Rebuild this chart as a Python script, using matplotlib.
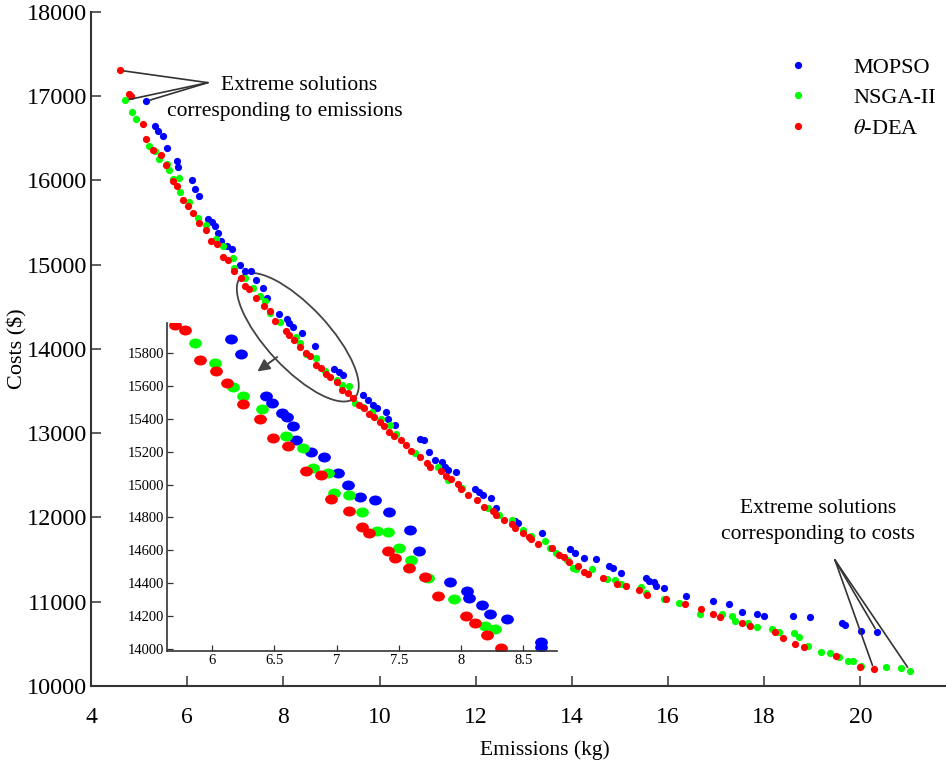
# -*- coding: utf-8 -*-
import numpy as np
import matplotlib
matplotlib.use('Agg')
import matplotlib.pyplot as plt
from matplotlib.path import Path
from matplotlib.patches import Ellipse
from matplotlib.transforms import ScaledTranslation

plt.rcParams['font.family'] = ['Liberation Serif', 'DejaVu Serif']
plt.rcParams['mathtext.fontset'] = 'stix'

# ---- main front (emissions kg, costs $) ----
mopso_x = [5.14, 5.33, 5.40, 5.50, 5.59, 5.79, 5.81, 6.09, 6.16, 6.25, 6.44, 6.51, 6.58, 6.65, 6.70,
           6.82, 6.93, 7.10, 7.20, 7.33, 7.43, 7.58, 7.67, 7.91, 8.07, 8.12, 8.21, 8.38, 8.66, 9.05,
           9.16, 9.25, 9.66, 9.77, 9.86, 9.94, 10.14, 10.18, 10.33, 10.84, 10.92, 11.03, 11.15, 11.30,
           11.36, 11.43, 11.60, 11.98, 12.07, 12.16, 12.31, 12.43, 12.81, 12.88, 13.37, 13.96, 14.06,
           14.25, 14.51, 14.78, 14.85, 15.03, 15.55, 15.61, 15.70, 15.75, 15.91, 16.37, 16.93, 17.26,
           17.53, 17.85, 17.99, 18.60, 18.96, 19.61, 19.68, 20.02, 20.35]
mopso_y = [16939, 16650, 16591, 16532, 16385, 16227, 16160, 16009, 15898, 15811, 15542, 15506, 15455,
           15376, 15277, 15218, 15186, 15000, 14920, 14920, 14818, 14723, 14610, 14418, 14358, 14307,
           14260, 14188, 14038, 13761, 13721, 13693, 13450, 13400, 13330, 13298, 13258, 13169, 13099,
           12930, 12922, 12783, 12684, 12664, 12605, 12565, 12538, 12336, 12308, 12268, 12229, 12117,
           11963, 11939, 11813, 11625, 11582, 11524, 11503, 11425, 11405, 11337, 11278, 11250, 11239,
           11188, 11160, 11069, 11013, 10974, 10883, 10855, 10831, 10831, 10823, 10752, 10724, 10650,
           10640]

nsga_x = [4.71, 4.85, 4.94, 5.21, 5.33, 5.42, 5.59, 5.62, 5.70, 5.82, 5.85, 6.04, 6.23, 6.40, 6.60,
          6.74, 6.96, 6.97, 7.20, 7.37, 7.51, 7.62, 7.72, 7.94, 8.26, 8.35, 8.48, 8.68, 8.86, 9.11,
          9.21, 9.37, 9.49, 9.66, 9.84, 10.04, 10.22, 10.35, 10.74, 11.22, 11.43, 11.71, 12.26, 12.49,
          12.75, 12.99, 13.16, 13.44, 13.54, 13.68, 13.90, 14.03, 14.08, 14.42, 14.74, 14.89, 15.02,
          15.43, 15.54, 15.91, 16.23, 16.66, 17.13, 17.34, 17.40, 17.66, 17.85, 18.16, 18.31, 18.62,
          18.73, 18.91, 19.19, 19.36, 19.56, 19.74, 19.85, 20.02, 20.54, 20.85, 21.03]
nsga_y = [16951, 16809, 16730, 16413, 16345, 16255, 16199, 16120, 16017, 16029, 15858, 15740, 15555,
          15475, 15305, 15218, 15079, 14960, 14841, 14723, 14624, 14564, 14425, 14315, 14148, 14069,
          13943, 13892, 13733, 13634, 13575, 13563, 13357, 13317, 13258, 13170, 13099, 12995, 12763,
          12605, 12447, 12348, 12110, 12031, 11971, 11853, 11781, 11726, 11635, 11582, 11495, 11397,
          11386, 11386, 11267, 11255, 11207, 11175, 11108, 11029, 10989, 10855, 10855, 10831, 10776,
          10744, 10697, 10677, 10645, 10633, 10578, 10475, 10407, 10396, 10341, 10301, 10301, 10238,
          10230, 10210, 10182]

dea_x = [4.60, 4.80, 4.83, 5.09, 5.14, 5.28, 5.46, 5.56, 5.70, 5.78, 5.92, 6.02, 6.13, 6.25, 6.39,
         6.49, 6.61, 6.75, 6.85, 6.97, 7.11, 7.21, 7.28, 7.43, 7.60, 7.72, 7.83, 8.05, 8.12, 8.23,
         8.35, 8.47, 8.55, 8.68, 8.78, 8.89, 8.98, 9.11, 9.21, 9.35, 9.44, 9.58, 9.68, 9.79, 9.88,
         10.00, 10.10, 10.20, 10.31, 10.44, 10.55, 10.65, 10.84, 10.98, 11.05, 11.27, 11.38, 11.48,
         11.64, 11.69, 11.84, 12.02, 12.17, 12.35, 12.43, 12.59, 12.75, 12.82, 12.98, 13.11, 13.14,
         13.30, 13.58, 13.74, 13.84, 13.95, 14.13, 14.25, 14.34, 14.64, 14.94, 15.12, 15.39, 15.57,
         15.95, 16.35, 16.68, 16.93, 17.08, 17.53, 17.70, 18.22, 18.38, 18.64, 18.82, 19.49, 20.00,
         20.28]
dea_y = [17307, 17027, 16998, 16674, 16496, 16365, 16306, 16179, 15989, 15938, 15764, 15700, 15613,
         15495, 15408, 15277, 15246, 15091, 15059, 14920, 14841, 14742, 14711, 14604, 14505, 14445,
         14335, 14208, 14169, 14101, 14018, 13951, 13911, 13812, 13780, 13702, 13666, 13614, 13515,
         13476, 13417, 13337, 13305, 13230, 13198, 13139, 13085, 13017, 12969, 12922, 12862, 12795,
         12716, 12645, 12605, 12546, 12494, 12455, 12396, 12336, 12268, 12209, 12129, 12082, 12031,
         11971, 11924, 11873, 11813, 11773, 11742, 11686, 11635, 11556, 11530, 11476, 11425, 11358,
         11326, 11278, 11211, 11188, 11140, 11081, 11029, 10974, 10911, 10851, 10823, 10752, 10716,
         10637, 10566, 10499, 10459, 10360, 10222, 10198]

# ---- inset (zoomed part of the front) ----
in_mopso_x = [6.15, 6.23, 6.43, 6.48, 6.56, 6.60, 6.65, 6.67, 6.79, 6.90, 7.01, 7.09, 7.19, 7.31,
              7.42, 7.585, 7.66, 7.91, 8.05, 8.06, 8.17, 8.23, 8.37, 8.64, 8.64]
in_mopso_y = [15885, 15796, 15540, 15495, 15434, 15410, 15358, 15271, 15200, 15170, 15072, 14997,
              14922, 14905, 14834, 14722, 14596, 14407, 14352, 14306, 14265, 14210, 14178, 14041, 14011]
in_nsga_x = [5.86, 6.025, 6.17, 6.25, 6.40, 6.59, 6.73, 6.81, 6.93, 6.98, 7.10, 7.20, 7.32, 7.41,
             7.50, 7.60, 7.73, 7.94, 8.19, 8.27]
in_nsga_y = [15865, 15743, 15596, 15540, 15462, 15296, 15221, 15099, 15072, 14946, 14936, 14834,
             14718, 14712, 14611, 14540, 14428, 14300, 14137, 14117]
in_dea_x = [5.70, 5.78, 5.90, 6.03, 6.12, 6.25, 6.38, 6.49, 6.605, 6.75, 6.87, 6.95, 7.10, 7.20,
            7.26, 7.41, 7.47, 7.58, 7.71, 7.81, 8.04, 8.11, 8.21, 8.32]
in_dea_y = [15973, 15942, 15759, 15692, 15621, 15491, 15399, 15282, 15235, 15084, 15058, 14911,
            14840, 14739, 14706, 14596, 14554, 14489, 14438, 14320, 14198, 14157, 14082, 14001]

labels = ['MOPSO', 'NSGA-II', r'$\theta$-DEA']
colors = ['#0000ff', '#00ff00', '#ff0000']
inset_xticks = [6, 6.5, 7, 7.5, 8, 8.5]
inset_yticks = [14000, 14200, 14400, 14600, 14800, 15000, 15200, 15400, 15600, 15800]

axis_col = '#333333'

fig = plt.figure(figsize=(9.46, 7.67), dpi=100)
ax = fig.add_axes([0.0962, 0.1056, 0.9038, 0.8788])

series = [(mopso_x, mopso_y), (nsga_x, nsga_y), (dea_x, dea_y)]
for (sx, sy), c, lab in zip(series, colors, labels):
    ax.plot(sx, sy, 'o', color=c, ms=5.2, mec='none', label=lab)

ax.set_xlim(4, 21.78)
ax.set_ylim(10000, 18000)
ax.set_xticks(np.arange(4, 21, 2))
ax.set_yticks(np.arange(10000, 18001, 1000))
for s in ['top', 'right']:
    ax.spines[s].set_visible(False)
for s in ['left', 'bottom']:
    ax.spines[s].set_color(axis_col)
    ax.spines[s].set_linewidth(1.5)
ax.tick_params(axis='x', direction='in', length=7, width=1.1, color=axis_col, labelsize=17, pad=15)
ax.tick_params(axis='y', direction='in', length=7, width=1.1, color=axis_col, labelsize=17.5, pad=3)
ax.set_xlabel('Emissions (kg)', fontsize=15.5)
ax.set_ylabel(r'Costs (\$)', fontsize=16)
ax.xaxis.set_label_coords(0.531, -0.08)
ax.yaxis.set_label_coords(-0.074, 0.5)

leg = ax.legend(loc='upper left', bbox_to_anchor=(0.82, 0.94), bbox_transform=fig.transFigure,
                frameon=False, fontsize=16, handlelength=1.0, handletextpad=2.0,
                labelspacing=0.45, borderpad=0)

# extreme solution annotations
line_kw = dict(arrowstyle='-', color=axis_col, lw=1.2, shrinkA=0, shrinkB=3)
for sx, sy in series:
    i = int(np.argmin(sx))
    ax.annotate('', xy=(sx[i], sy[i]), xytext=(6.43, 17161), arrowprops=line_kw)
    j = int(np.argmin(sy))
    ax.annotate('', xy=(sx[j], sy[j]), xytext=(19.47, 11496), arrowprops=line_kw)
ax.text(8.32, 17126, 'Extreme solutions', ha='center', va='center', fontsize=15.5)
ax.text(8.04, 16817, 'corresponding to emissions', ha='center', va='center', fontsize=15.5)
ax.text(19.12, 12102, 'Extreme solutions', ha='center', va='center', fontsize=15.5)
ax.text(19.12, 11793, 'corresponding to costs', ha='center', va='center', fontsize=15.5)

# ellipse around the zoomed region and the arrow towards the inset
ell = Ellipse((0, 0), width=1.66, height=0.62, angle=-47, fill=False, ec='#444444', lw=1.3,
              transform=fig.dpi_scale_trans + ScaledTranslation(8.30, 14139, ax.transData))
ax.add_patch(ell)
ax.annotate('', xy=(7.46, 13733), xytext=(7.87, 13904),
            arrowprops=dict(arrowstyle='-|>', color='#444444', lw=1.4, mutation_scale=18,
                            shrinkA=0, shrinkB=0))

# ---- inset ----
circ = Path.unit_circle()
oval = Path(circ.vertices * np.array([1.28, 1.0]), circ.codes)

axin = fig.add_axes([0.1765, 0.1512, 0.4123, 0.4276])
axin.patch.set_alpha(0)
in_series = [(in_mopso_x, in_mopso_y), (in_nsga_x, in_nsga_y), (in_dea_x, in_dea_y)]
for (sx, sy), c in zip(in_series, colors):
    axin.plot(sx, sy, linestyle='none', marker=oval, color=c, ms=9.2, mec='none')
axin.set_xlim(5.636, 8.77)
axin.set_ylim(13985, 15985)
axin.set_xticks(inset_xticks)
axin.set_xticklabels([('%g' % t) for t in inset_xticks])
axin.set_yticks(inset_yticks)
for s in ['top', 'right']:
    axin.spines[s].set_visible(False)
for s in ['left', 'bottom']:
    axin.spines[s].set_color(axis_col)
    axin.spines[s].set_linewidth(1.2)
axin.tick_params(direction='in', length=4, width=0.9, color=axis_col, labelsize=10.5, pad=2)

fig.savefig('out.png', dpi=100)
